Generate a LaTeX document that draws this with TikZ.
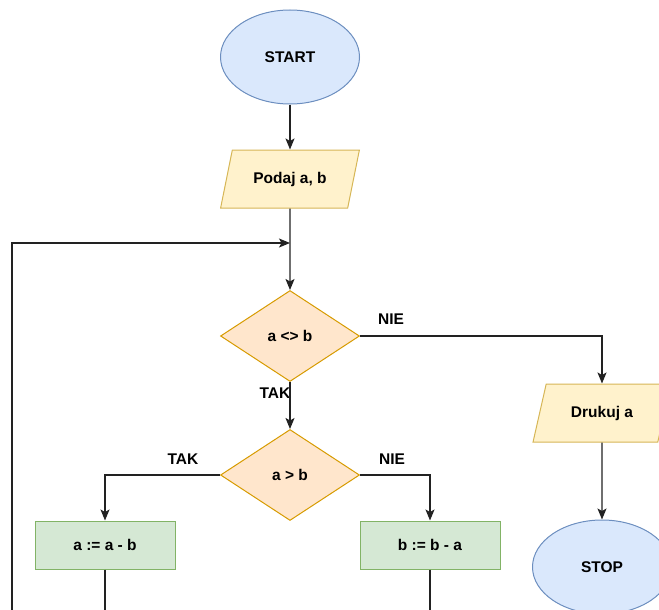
\documentclass[tikz,border=0pt]{standalone}
\usepackage{fontspec}
\setmainfont{Liberation Sans}
\definecolor{flblue}{HTML}{DAE8FC}
\definecolor{flbluedk}{HTML}{6C8EBF}
\definecolor{flyellow}{HTML}{FFF2CC}
\definecolor{flyellowdk}{HTML}{D6B656}
\definecolor{florange}{HTML}{FFE6CC}
\definecolor{florangedk}{HTML}{D79B00}
\definecolor{flgreen}{HTML}{D5E8D4}
\definecolor{flgreendk}{HTML}{82B366}
\definecolor{flline}{HTML}{222222}
\usetikzlibrary{arrows.meta,positioning,shapes.geometric,calc}

\begin{document}
\begin{tikzpicture}[x=1pt,y=-1pt,
  every node/.style={font=\fontsize{15.5}{18}\selectfont\bfseries},
  term/.style={ellipse, draw=flbluedk, fill=flblue, line width=1pt, minimum width=139pt, minimum height=94pt},
  io/.style={trapezium, trapezium left angle=69, trapezium right angle=111, trapezium stretches=true, draw=flyellowdk, fill=flyellow, line width=1pt, minimum width=139pt, minimum height=58pt},
  cond/.style={diamond, draw=florangedk, fill=florange, line width=1pt, minimum width=139pt, minimum height=91pt, inner sep=0pt},
  proc/.style={rectangle, draw=flgreendk, fill=flgreen, line width=1pt, minimum width=140pt, minimum height=48pt},
  arr/.style={draw=flline, line width=1.4pt, -{Stealth[length=11pt,width=9pt,inset=2.5pt]}},
  ln/.style={draw=flline, line width=1.4pt}
]
  \useasboundingbox (0,0) rectangle (659,610);
  \clip (0,0) rectangle (659,610);

  \node[term] (start) at (290,57) {START};
  \node[io] (podaj) at (290,179) {Podaj a, b};
  \coordinate (join) at (290,243);
  \node[cond] (d1) at (290,336) {a <> b};
  \node[io] (drukuj) at (602,413) {Drukuj a};
  \node[term] (stop) at (602,567) {STOP};
  \node[cond] (d2) at (290,475) {a > b};
  \node[proc] (asub) at (105,545) {a := a - b};
  \node[proc] (bsub) at (430,545) {b := b - a};

  % labels
  \node (nie1) at (391,319) {NIE};
  \node (tak1) at (275,393) {TAK};
  \node (tak2) at (183,459) {TAK};
  \node (nie2) at (392,459) {NIE};

  % off-page ends
  \coordinate (loop) at (12,650);
  \coordinate (aout) at (105,650);
  \coordinate (bout) at (430,650);

  \draw[arr] (start) -- (podaj);
  \draw[arr] (podaj) -- (d1);
  \draw[arr] (loop) |- (join);
  \draw[arr] (d1) -| (drukuj);
  \draw[arr] (drukuj) -- (stop);
  \draw[arr] (d1) -- (d2);
  \draw[arr] (d2) -| (asub);
  \draw[arr] (d2) -| (bsub);
  \draw[ln] (asub) -- (aout);
  \draw[ln] (bsub) -- (bout);
\end{tikzpicture}
\end{document}
